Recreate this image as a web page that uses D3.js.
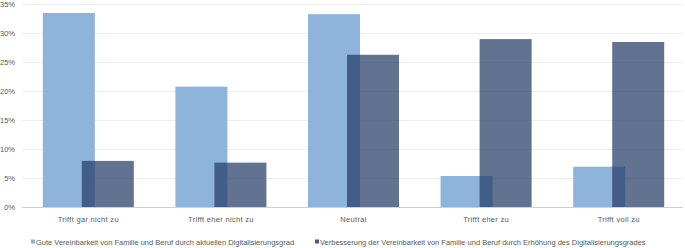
<!DOCTYPE html>
<html>
<head>
<meta charset="utf-8">
<script src="https://cdn.jsdelivr.net/npm/d3@7"></script>
<style>
  body { margin: 0; background: #fff; }
  svg { display: block; font-family: "Liberation Sans", Arial, sans-serif; }
</style>
</head>
<body>
<div id="chart"></div>
<script>
var categories = ["Trifft gar nicht zu", "Trifft eher nicht zu", "Neutral", "Trifft eher zu", "Trifft voll zu"]
var seriesNames = [
  "Gute Vereinbarkeit von Familie und Beruf durch aktuellen Digitalisierungsgrad",
  "Verbesserung der Vereinbarkeit von Familie und Beruf durch Erhöhung des Digitalisierungsgrades"
]
var aktuell = [33.5, 20.8, 33.3, 5.4, 7.0]
var erhoehung = [8.0, 7.7, 26.3, 29.0, 28.5]
var yTicks = [0, 5, 10, 15, 20, 25, 30, 35]

var width = 685, height = 248

var svg = d3.select("#chart").append("svg")
  .attr("width", width)
  .attr("height", height)

var x = d3.scaleBand()
  .domain(categories)
  .range([22, 685])

var y = d3.scaleLinear()
  .domain([0, 35])
  .range([207.3, 4.3])

// gridlines
svg.selectAll(".grid")
  .data(yTicks.slice(1))
  .enter()
  .append("line")
  .attr("x1", 22)
  .attr("x2", 683)
  .attr("y1", d => Math.round(y(d)) + 0.5)
  .attr("y2", d => Math.round(y(d)) + 0.5)
  .attr("stroke", "#efefef")
  .attr("stroke-width", 1)

// y labels
svg.selectAll(".ylab")
  .data(yTicks)
  .enter()
  .append("text")
  .text(d => d + "%")
  .attr("x", 15)
  .attr("y", d => y(d) + 2.7)
  .attr("text-anchor", "end")
  .attr("fill", "#595959")
  .attr("font-size", 7.5)

var barW = 52
var shift = 39

// light bars
svg.selectAll(".b1")
  .data(aktuell)
  .enter()
  .append("rect")
  .attr("x", (d, i) => x(categories[i]) + x.bandwidth() / 2 - (barW + shift) / 2)
  .attr("y", d => y(d))
  .attr("width", barW)
  .attr("height", d => y(0) - y(d))
  .attr("fill", "#8fb4dc")

// dark bars, semi transparent
svg.selectAll(".b2")
  .data(erhoehung)
  .enter()
  .append("rect")
  .attr("x", (d, i) => x(categories[i]) + x.bandwidth() / 2 - (barW + shift) / 2 + shift)
  .attr("y", d => y(d))
  .attr("width", barW)
  .attr("height", d => y(0) - y(d))
  .attr("fill", "#1f3864")
  .attr("fill-opacity", 0.7)

// x axis line
svg.append("line")
  .attr("x1", 22)
  .attr("x2", 683)
  .attr("y1", 207.5)
  .attr("y2", 207.5)
  .attr("stroke", "#d0d0d0")
  .attr("stroke-width", 1)

// category labels
svg.selectAll(".xlab")
  .data(categories)
  .enter()
  .append("text")
  .text(d => d)
  .attr("x", d => x(d) + x.bandwidth() / 2)
  .attr("y", 222)
  .attr("text-anchor", "middle")
  .attr("fill", "#595959")
  .attr("font-size", 7.5)
  .attr("letter-spacing", 0.3)

// legend
var legendX = [31, 315]
var legendColors = ["#8fb4dc", "#4a5c80"]
var legend = svg.selectAll(".leg")
  .data(seriesNames)
  .enter()
  .append("g")
  .attr("transform", (d, i) => "translate(" + legendX[i] + ",242)")

legend.append("rect")
  .attr("x", 0)
  .attr("y", -2.5)
  .attr("width", 4)
  .attr("height", 4)
  .attr("fill", (d, i) => legendColors[i])

legend.append("text")
  .text(d => d)
  .attr("x", 5)
  .attr("y", 2.6)
  .attr("fill", "#595959")
  .attr("font-size", 7.5)
</script>
</body>
</html>
